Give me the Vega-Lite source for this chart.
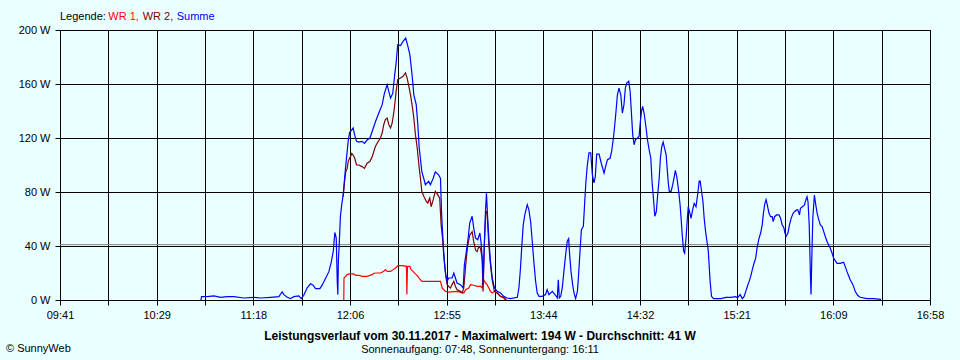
{
  "$schema": "https://vega.github.io/schema/vega-lite/v6.json",
  "width": 870,
  "height": 270,
  "autosize": {"type": "none"},
  "padding": {"left": 60, "top": 30, "right": 30, "bottom": 60},
  "background": "#EAFFFF",
  "config": {"view": {"stroke": "#000000", "strokeWidth": 1}, "font": "Liberation Sans"},
  "datasets": {
    "summe": [
      {"t":652.0,"w":0},{"t":652.3,"w":2.5},{"t":655.2,"w":2.5},{"t":658.5,"w":3},{"t":661.9,"w":2},{"t":665.2,"w":2.5},{"t":668.6,"w":2.5},{"t":673.6,"w":1.5},{"t":678.6,"w":2},{"t":682.0,"w":1.5},{"t":687.0,"w":2},{"t":691.2,"w":2.5},{"t":692.3,"w":5},{"t":692.8,"w":6},{"t":693.7,"w":4},{"t":695.4,"w":2},{"t":697.0,"w":1},{"t":698.7,"w":2.5},{"t":701.2,"w":3},{"t":702.4,"w":1},{"t":703.7,"w":3.5},{"t":705.4,"w":9},{"t":707.1,"w":12},{"t":708.4,"w":11},{"t":709.6,"w":8.4},{"t":711.8,"w":8.4},{"t":712.9,"w":11},{"t":714.6,"w":16},{"t":716.3,"w":21},{"t":717.5,"w":28},{"t":718.5,"w":36},{"t":719.3,"w":50},{"t":720.0,"w":46},{"t":720.5,"w":14},{"t":720.8,"w":4},{"t":721.1,"w":30},{"t":721.5,"w":41},{"t":722.1,"w":62},{"t":722.8,"w":71},{"t":723.5,"w":78},{"t":724.2,"w":90},{"t":724.8,"w":100},{"t":725.5,"w":110},{"t":726.0,"w":117.5},{"t":726.7,"w":124},{"t":727.5,"w":125.5},{"t":728.5,"w":127.5},{"t":729.3,"w":122},{"t":730.2,"w":117.5},{"t":731.4,"w":117},{"t":733.0,"w":117.5},{"t":734.2,"w":116},{"t":735.5,"w":118.5},{"t":736.9,"w":120},{"t":738.1,"w":125},{"t":739.7,"w":132},{"t":741.4,"w":138.5},{"t":743.1,"w":144.7},{"t":744.2,"w":153},{"t":745.6,"w":159.5},{"t":746.4,"w":154.5},{"t":747.3,"w":149.6},{"t":748.4,"w":153},{"t":749.4,"w":167},{"t":750.1,"w":175.5},{"t":750.9,"w":189},{"t":752.3,"w":188.5},{"t":753.6,"w":191.6},{"t":754.9,"w":194},{"t":756.0,"w":188},{"t":757.0,"w":181.7},{"t":758.1,"w":167},{"t":759.0,"w":152},{"t":760.2,"w":144.7},{"t":761.0,"w":130},{"t":761.7,"w":112.6},{"t":762.3,"w":105},{"t":763.0,"w":95},{"t":764.0,"w":90},{"t":764.8,"w":85.4},{"t":766.5,"w":87.9},{"t":767.3,"w":85.4},{"t":768.7,"w":90},{"t":769.8,"w":95},{"t":771.5,"w":92.6},{"t":772.4,"w":90},{"t":772.9,"w":66},{"t":773.4,"w":51},{"t":774.0,"w":36},{"t":774.5,"w":26},{"t":775.0,"w":19},{"t":775.7,"w":13.8},{"t":776.5,"w":16.3},{"t":778.2,"w":16.3},{"t":779.1,"w":20},{"t":779.9,"w":16.3},{"t":780.7,"w":12.6},{"t":782.4,"w":11.4},{"t":783.8,"w":8.9},{"t":784.4,"w":26},{"t":785.4,"w":36},{"t":786.3,"w":45.9},{"t":787.1,"w":57},{"t":788.3,"w":62},{"t":789.1,"w":53.3},{"t":790.0,"w":45.9},{"t":791.1,"w":44.7},{"t":792.2,"w":49.6},{"t":792.8,"w":42.2},{"t":793.5,"w":28.6},{"t":793.8,"w":11.4},{"t":794.2,"w":31},{"t":795.0,"w":65.7},{"t":795.5,"w":79},{"t":796.2,"w":58},{"t":796.9,"w":41},{"t":797.5,"w":28.6},{"t":798.4,"w":16.3},{"t":799.5,"w":8.9},{"t":800.9,"w":6.4},{"t":802.6,"w":5.2},{"t":804.2,"w":2.7},{"t":805.9,"w":1.5},{"t":807.6,"w":1},{"t":811.0,"w":2},{"t":811.8,"w":8.9},{"t":812.6,"w":23.7},{"t":813.3,"w":41},{"t":814.0,"w":55.8},{"t":814.8,"w":63.2},{"t":816.0,"w":70.6},{"t":816.8,"w":66.9},{"t":817.7,"w":58},{"t":818.5,"w":43.5},{"t":819.3,"w":28.6},{"t":820.2,"w":13.8},{"t":821.0,"w":5.2},{"t":821.9,"w":2.7},{"t":823.5,"w":2.7},{"t":825.2,"w":4},{"t":826.0,"w":7.7},{"t":826.9,"w":4},{"t":828.6,"w":6.4},{"t":830.2,"w":3.5},{"t":831.1,"w":1.5},{"t":831.6,"w":15},{"t":832.1,"w":1.5},{"t":832.8,"w":2.7},{"t":833.6,"w":8.9},{"t":834.4,"w":21},{"t":835.3,"w":33.6},{"t":836.1,"w":43.5},{"t":836.8,"w":45.4},{"t":837.3,"w":33.6},{"t":838.0,"w":21},{"t":838.8,"w":11.4},{"t":839.5,"w":5.2},{"t":840.3,"w":1},{"t":841.2,"w":6.4},{"t":841.7,"w":16.3},{"t":842.3,"w":31},{"t":843.2,"w":52},{"t":844.2,"w":54.6},{"t":844.8,"w":70.6},{"t":845.5,"w":88},{"t":846.2,"w":100},{"t":847.0,"w":109},{"t":847.9,"w":109},{"t":848.7,"w":93},{"t":849.5,"w":86.7},{"t":850.2,"w":91.4},{"t":850.9,"w":108},{"t":852.1,"w":108},{"t":853.2,"w":101.3},{"t":854.6,"w":94},{"t":855.4,"w":99},{"t":856.3,"w":104},{"t":857.6,"w":105},{"t":858.4,"w":110},{"t":859.3,"w":120},{"t":860.0,"w":130},{"t":860.6,"w":139.7},{"t":861.3,"w":152},{"t":862.1,"w":157},{"t":863.0,"w":152},{"t":863.8,"w":138.5},{"t":864.6,"w":144.7},{"t":865.3,"w":157},{"t":866.0,"w":160.7},{"t":867.0,"w":162},{"t":867.7,"w":154.6},{"t":868.3,"w":139.7},{"t":869.0,"w":122.5},{"t":869.7,"w":115},{"t":870.4,"w":118.8},{"t":871.4,"w":120},{"t":872.2,"w":121.3},{"t":872.7,"w":130},{"t":873.4,"w":139.7},{"t":874.0,"w":143.4},{"t":874.7,"w":138.5},{"t":875.5,"w":130},{"t":876.4,"w":118.8},{"t":877.4,"w":110},{"t":878.1,"w":105},{"t":878.7,"w":88},{"t":879.4,"w":75.5},{"t":880.1,"w":62},{"t":880.9,"w":65.7},{"t":881.4,"w":75.5},{"t":882.3,"w":90},{"t":882.9,"w":105},{"t":883.6,"w":113.6},{"t":884.3,"w":117},{"t":884.9,"w":113},{"t":885.8,"w":107.6},{"t":886.3,"w":97.8},{"t":886.9,"w":86.4},{"t":887.4,"w":80.5},{"t":888.3,"w":80.5},{"t":889.1,"w":85.4},{"t":889.9,"w":91.6},{"t":890.4,"w":96},{"t":891.1,"w":91.6},{"t":891.6,"w":86.4},{"t":892.1,"w":80.5},{"t":892.8,"w":70.6},{"t":893.3,"w":60.7},{"t":893.9,"w":48},{"t":894.6,"w":36},{"t":895.1,"w":34.6},{"t":895.8,"w":45.9},{"t":896.3,"w":57},{"t":896.9,"w":69.1},{"t":897.6,"w":65.2},{"t":898.3,"w":60.5},{"t":899.1,"w":66.7},{"t":899.9,"w":71.6},{"t":900.8,"w":69.1},{"t":901.6,"w":77.8},{"t":902.4,"w":88},{"t":902.9,"w":88},{"t":903.6,"w":80.5},{"t":904.3,"w":73},{"t":904.9,"w":60.7},{"t":905.6,"w":51},{"t":906.3,"w":43.5},{"t":907.0,"w":36},{"t":907.4,"w":26},{"t":907.9,"w":13.8},{"t":908.6,"w":2.7},{"t":909.6,"w":1},{"t":913.3,"w":1},{"t":915.8,"w":2},{"t":918.3,"w":2},{"t":920.8,"w":2.5},{"t":921.6,"w":1.5},{"t":923.0,"w":4},{"t":924.1,"w":1},{"t":925.0,"w":2.7},{"t":925.8,"w":6.4},{"t":926.6,"w":10},{"t":927.5,"w":13.8},{"t":928.3,"w":17.5},{"t":929.1,"w":22.5},{"t":930.0,"w":27.4},{"t":930.8,"w":31},{"t":931.6,"w":39.5},{"t":932.5,"w":45.9},{"t":933.3,"w":49.6},{"t":934.1,"w":55.8},{"t":934.6,"w":63.2},{"t":935.3,"w":70.6},{"t":936.0,"w":74.3},{"t":936.6,"w":70.6},{"t":937.5,"w":64.2},{"t":938.3,"w":61.7},{"t":939.1,"w":61.7},{"t":939.6,"w":58},{"t":940.3,"w":61.7},{"t":941.3,"w":63},{"t":942.5,"w":63},{"t":943.3,"w":60.5},{"t":944.1,"w":55.8},{"t":945.0,"w":53.3},{"t":945.5,"w":49.6},{"t":946.1,"w":47.2},{"t":947.0,"w":49.6},{"t":947.8,"w":55.8},{"t":948.6,"w":60.5},{"t":949.6,"w":64.2},{"t":950.3,"w":65.4},{"t":951.3,"w":66.7},{"t":952.0,"w":66.7},{"t":952.8,"w":63},{"t":953.3,"w":67.9},{"t":954.3,"w":69.1},{"t":955.3,"w":70.4},{"t":956.0,"w":74.1},{"t":956.6,"w":76.5},{"t":957.1,"w":72.8},{"t":957.7,"w":55.8},{"t":958.3,"w":18.8},{"t":958.6,"w":4},{"t":959.0,"w":30.9},{"t":959.5,"w":60.5},{"t":960.3,"w":77.8},{"t":961.0,"w":70.4},{"t":961.7,"w":64.2},{"t":962.5,"w":59.3},{"t":963.3,"w":55.6},{"t":964.2,"w":54.3},{"t":965.0,"w":50.6},{"t":965.8,"w":46.9},{"t":966.7,"w":43.2},{"t":967.5,"w":40.7},{"t":968.3,"w":38.3},{"t":969.2,"w":34.6},{"t":970.0,"w":30.9},{"t":971.7,"w":27.2},{"t":973.3,"w":27.2},{"t":975.0,"w":28},{"t":975.8,"w":24.7},{"t":976.7,"w":21},{"t":977.5,"w":18},{"t":978.3,"w":15},{"t":979.2,"w":12.6},{"t":980.0,"w":10.1},{"t":980.8,"w":6.4},{"t":982.0,"w":3.5},{"t":983.3,"w":2},{"t":986.7,"w":1},{"t":990.0,"w":1},{"t":993.8,"w":0.5}
    ],
    "wr2": [
      {"t":723.5,"w":76.5},{"t":724.2,"w":87.9},{"t":724.8,"w":95.1},{"t":725.5,"w":97.5},{"t":726.0,"w":102.5},{"t":726.7,"w":105},{"t":727.2,"w":106.2},{"t":727.8,"w":108.6},{"t":728.5,"w":107.4},{"t":729.3,"w":105},{"t":730.2,"w":100},{"t":731.4,"w":100},{"t":733.0,"w":98.8},{"t":734.2,"w":97.5},{"t":735.5,"w":101.3},{"t":736.9,"w":102.5},{"t":738.1,"w":106.2},{"t":738.9,"w":110},{"t":739.7,"w":113.8},{"t":740.6,"w":116.3},{"t":742.2,"w":120},{"t":743.1,"w":123.7},{"t":743.9,"w":130},{"t":744.7,"w":133.6},{"t":745.6,"w":134.8},{"t":746.4,"w":130},{"t":747.3,"w":127.4},{"t":748.1,"w":131.1},{"t":748.9,"w":138.5},{"t":749.6,"w":147.2},{"t":750.1,"w":154.6},{"t":750.9,"w":163.3},{"t":752.3,"w":164.5},{"t":753.6,"w":165.7},{"t":754.8,"w":168.2},{"t":755.6,"w":164.5},{"t":756.5,"w":158.3},{"t":757.3,"w":152.1},{"t":758.1,"w":144.7},{"t":759.0,"w":134.8},{"t":759.8,"w":122.5},{"t":760.7,"w":112.6},{"t":761.7,"w":97.8},{"t":762.3,"w":90.4},{"t":763.0,"w":80.5},{"t":764.0,"w":76.8},{"t":765.3,"w":73},{"t":766.0,"w":71.8},{"t":767.0,"w":75.5},{"t":767.7,"w":69.1},{"t":768.7,"w":74.1},{"t":769.8,"w":80.5},{"t":771.0,"w":78},{"t":772.0,"w":75.5},{"t":772.7,"w":55.8},{"t":773.4,"w":45.9},{"t":774.0,"w":33.6},{"t":774.5,"w":26},{"t":775.0,"w":19},{"t":775.7,"w":11.4},{"t":776.5,"w":10},{"t":777.4,"w":8.9},{"t":778.2,"w":11.4},{"t":779.1,"w":13.8},{"t":779.9,"w":10},{"t":780.7,"w":7.7},{"t":782.4,"w":6.4},{"t":783.3,"w":5.2},{"t":784.1,"w":8.9},{"t":784.8,"w":21},{"t":785.4,"w":31},{"t":786.1,"w":40.7},{"t":787.1,"w":48.1},{"t":788.3,"w":50.6},{"t":789.1,"w":43.2},{"t":790.0,"w":37},{"t":790.8,"w":35.8},{"t":791.6,"w":39.5},{"t":792.5,"w":38.3},{"t":793.3,"w":30.9},{"t":793.8,"w":6.4},{"t":794.5,"w":43.5},{"t":795.2,"w":65.4},{"t":795.8,"w":65.4},{"t":796.5,"w":45.7},{"t":797.2,"w":30.9},{"t":797.9,"w":21},{"t":798.5,"w":13.8},{"t":799.5,"w":6.4},{"t":800.9,"w":5.2},{"t":802.6,"w":2.7},{"t":804.2,"w":2},{"t":805.5,"w":0}
    ],
    "wr1": [
      {"t":723.8,"w":0},{"t":723.9,"w":16.3},{"t":724.7,"w":17.5},{"t":725.5,"w":18.8},{"t":726.8,"w":19.3},{"t":728.8,"w":19.3},{"t":729.7,"w":18.3},{"t":731.4,"w":18.3},{"t":733.0,"w":17.5},{"t":735.5,"w":17.5},{"t":738.1,"w":18.8},{"t":738.9,"w":19.8},{"t":740.6,"w":20},{"t":742.2,"w":20},{"t":743.9,"w":21.2},{"t":744.7,"w":22.5},{"t":745.6,"w":21.2},{"t":747.3,"w":21.2},{"t":748.6,"w":22.5},{"t":749.8,"w":23.7},{"t":751.0,"w":25.4},{"t":753.1,"w":25.4},{"t":755.3,"w":24.9},{"t":755.5,"w":4},{"t":755.8,"w":24.9},{"t":757.0,"w":24.9},{"t":757.6,"w":22.5},{"t":758.6,"w":21.2},{"t":759.8,"w":19.3},{"t":761.0,"w":17.5},{"t":762.3,"w":15},{"t":763.2,"w":13.8},{"t":772.4,"w":13.8},{"t":773.2,"w":8.9},{"t":774.0,"w":7.7},{"t":774.9,"w":6.4},{"t":776.5,"w":5.9},{"t":780.7,"w":6.4},{"t":784.1,"w":5.2},{"t":785.0,"w":7.7},{"t":786.6,"w":8.9},{"t":787.5,"w":11.4},{"t":789.1,"w":10.9},{"t":790.8,"w":10.1},{"t":792.5,"w":10.1},{"t":793.3,"w":8.9},{"t":793.8,"w":16.3},{"t":794.5,"w":13.8},{"t":795.8,"w":11.4},{"t":796.7,"w":8.9},{"t":797.5,"w":6.4},{"t":798.4,"w":5.2},{"t":799.5,"w":6.4},{"t":800.9,"w":5.2},{"t":802.6,"w":2.7},{"t":804.2,"w":1.5},{"t":805.1,"w":0}
    ]
  },
  "layer": [
    {
      "data": {"values": [{"avg": 41}]},
      "mark": {"type": "rule", "color": "#808080", "strokeWidth": 1},
      "encoding": {
        "y": {"field": "avg", "type": "quantitative", "title": null, "scale": {"domain": [0, 200], "nice": false}}
      }
    },
    {
      "data": {"name": "wr1"},
      "mark": {"type": "line", "color": "#FF0000", "strokeWidth": 1.2},
      "encoding": {
        "x": {
          "field": "t",
          "type": "quantitative",
          "title": null,
          "scale": {"domain": [581.18, 1018.4], "nice": false, "zero": false},
          "axis": {
            "values": [581.18, 605.47, 629.76, 654.05, 678.34, 702.63, 726.92, 751.21, 775.5, 799.79, 824.08, 848.37, 872.66, 896.95, 921.24, 945.53, 969.82, 994.11, 1018.4],
            "labelExpr": "round((datum.value - 581.18) / 24.29) % 2 == 1 ? '' : (floor(datum.value / 60) < 10 ? '0' : '') + floor(datum.value / 60) + ':' + (floor(datum.value) % 60 < 10 ? '0' : '') + (floor(datum.value) % 60)",
            "grid": true,
            "gridColor": "#000000",
            "gridOpacity": 1,
            "gridWidth": 1,
            "domainColor": "#000000",
            "domainWidth": 1,
            "tickColor": "#000000",
            "tickSize": 5,
            "tickWidth": 1,
            "labelColor": "#000000",
            "labelFont": "Liberation Sans",
            "labelFontSize": 11,
            "labelPadding": 4,
            "labelOverlap": false,
            "labelFlush": false,
            "labelBound": false
          }
        },
        "y": {
          "field": "w",
          "type": "quantitative",
          "title": null,
          "scale": {"domain": [0, 200], "nice": false},
          "axis": {
            "values": [0, 40, 80, 120, 160, 200],
            "labelExpr": "datum.value + ' W'",
            "grid": true,
            "gridColor": "#000000",
            "gridOpacity": 1,
            "gridWidth": 1,
            "domainColor": "#000000",
            "domainWidth": 1,
            "tickColor": "#000000",
            "tickSize": 5,
            "tickWidth": 1,
            "labelColor": "#000000",
            "labelFont": "Liberation Sans",
            "labelFontSize": 11,
            "labelPadding": 5,
            "labelOverlap": false,
            "labelFlush": false
          }
        }
      }
    },
    {
      "data": {"name": "wr2"},
      "mark": {"type": "line", "color": "#800000", "strokeWidth": 1.2},
      "encoding": {
        "x": {"field": "t", "type": "quantitative", "title": null},
        "y": {"field": "w", "type": "quantitative", "title": null}
      }
    },
    {
      "data": {"name": "summe"},
      "mark": {"type": "line", "color": "#0000FF", "strokeWidth": 1.2},
      "encoding": {
        "x": {"field": "t", "type": "quantitative", "title": null},
        "y": {"field": "w", "type": "quantitative", "title": null}
      }
    },
    {
      "data": {"values": [{"label": "Legende:"}]},
      "mark": {"type": "text", "align": "left", "baseline": "middle", "font": "Liberation Sans", "fontSize": 11, "color": "#000000"},
      "encoding": {
        "x": {"datum": 581.18, "type": "quantitative", "title": null},
        "y": {"datum": 209.6, "type": "quantitative", "title": null},
        "text": {"field": "label", "type": "nominal"}
      }
    },
    {
      "data": {"values": [{"label": "WR 1,"}]},
      "mark": {"type": "text", "align": "left", "baseline": "middle", "font": "Liberation Sans", "fontSize": 11, "color": "#FF0000"},
      "encoding": {
        "x": {"datum": 605.45, "type": "quantitative", "title": null},
        "y": {"datum": 209.6, "type": "quantitative", "title": null},
        "text": {"field": "label", "type": "nominal"}
      }
    },
    {
      "data": {"values": [{"label": "WR 2,"}]},
      "mark": {"type": "text", "align": "left", "baseline": "middle", "font": "Liberation Sans", "fontSize": 11, "color": "#800000"},
      "encoding": {
        "x": {"datum": 622.73, "type": "quantitative", "title": null},
        "y": {"datum": 209.6, "type": "quantitative", "title": null},
        "text": {"field": "label", "type": "nominal"}
      }
    },
    {
      "data": {"values": [{"label": "Summe"}]},
      "mark": {"type": "text", "align": "left", "baseline": "middle", "font": "Liberation Sans", "fontSize": 11, "color": "#0000FF"},
      "encoding": {
        "x": {"datum": 639.83, "type": "quantitative", "title": null},
        "y": {"datum": 209.6, "type": "quantitative", "title": null},
        "text": {"field": "label", "type": "nominal"}
      }
    },
    {
      "data": {"values": [{"label": "Leistungsverlauf vom 30.11.2017 - Maximalwert: 194 W - Durchschnitt: 41 W"}]},
      "mark": {"type": "text", "align": "center", "baseline": "middle", "font": "Liberation Sans", "fontSize": 12, "fontWeight": "bold", "color": "#000000"},
      "encoding": {
        "x": {"datum": 792.25, "type": "quantitative", "title": null},
        "y": {"datum": -27.0, "type": "quantitative", "title": null},
        "text": {"field": "label", "type": "nominal"}
      }
    },
    {
      "data": {"values": [{"label": "Sonnenaufgang: 07:48, Sonnenuntergang: 16:11"}]},
      "mark": {"type": "text", "align": "center", "baseline": "middle", "font": "Liberation Sans", "fontSize": 11, "color": "#000000"},
      "encoding": {
        "x": {"datum": 792.25, "type": "quantitative", "title": null},
        "y": {"datum": -37.0, "type": "quantitative", "title": null},
        "text": {"field": "label", "type": "nominal"}
      }
    },
    {
      "data": {"values": [{"label": "© SunnyWeb"}]},
      "mark": {"type": "text", "align": "left", "baseline": "middle", "font": "Liberation Sans", "fontSize": 11, "color": "#000000"},
      "encoding": {
        "x": {"datum": 554.04, "type": "quantitative", "title": null},
        "y": {"datum": -36.5, "type": "quantitative", "title": null},
        "text": {"field": "label", "type": "nominal"}
      }
    }
  ]
}
